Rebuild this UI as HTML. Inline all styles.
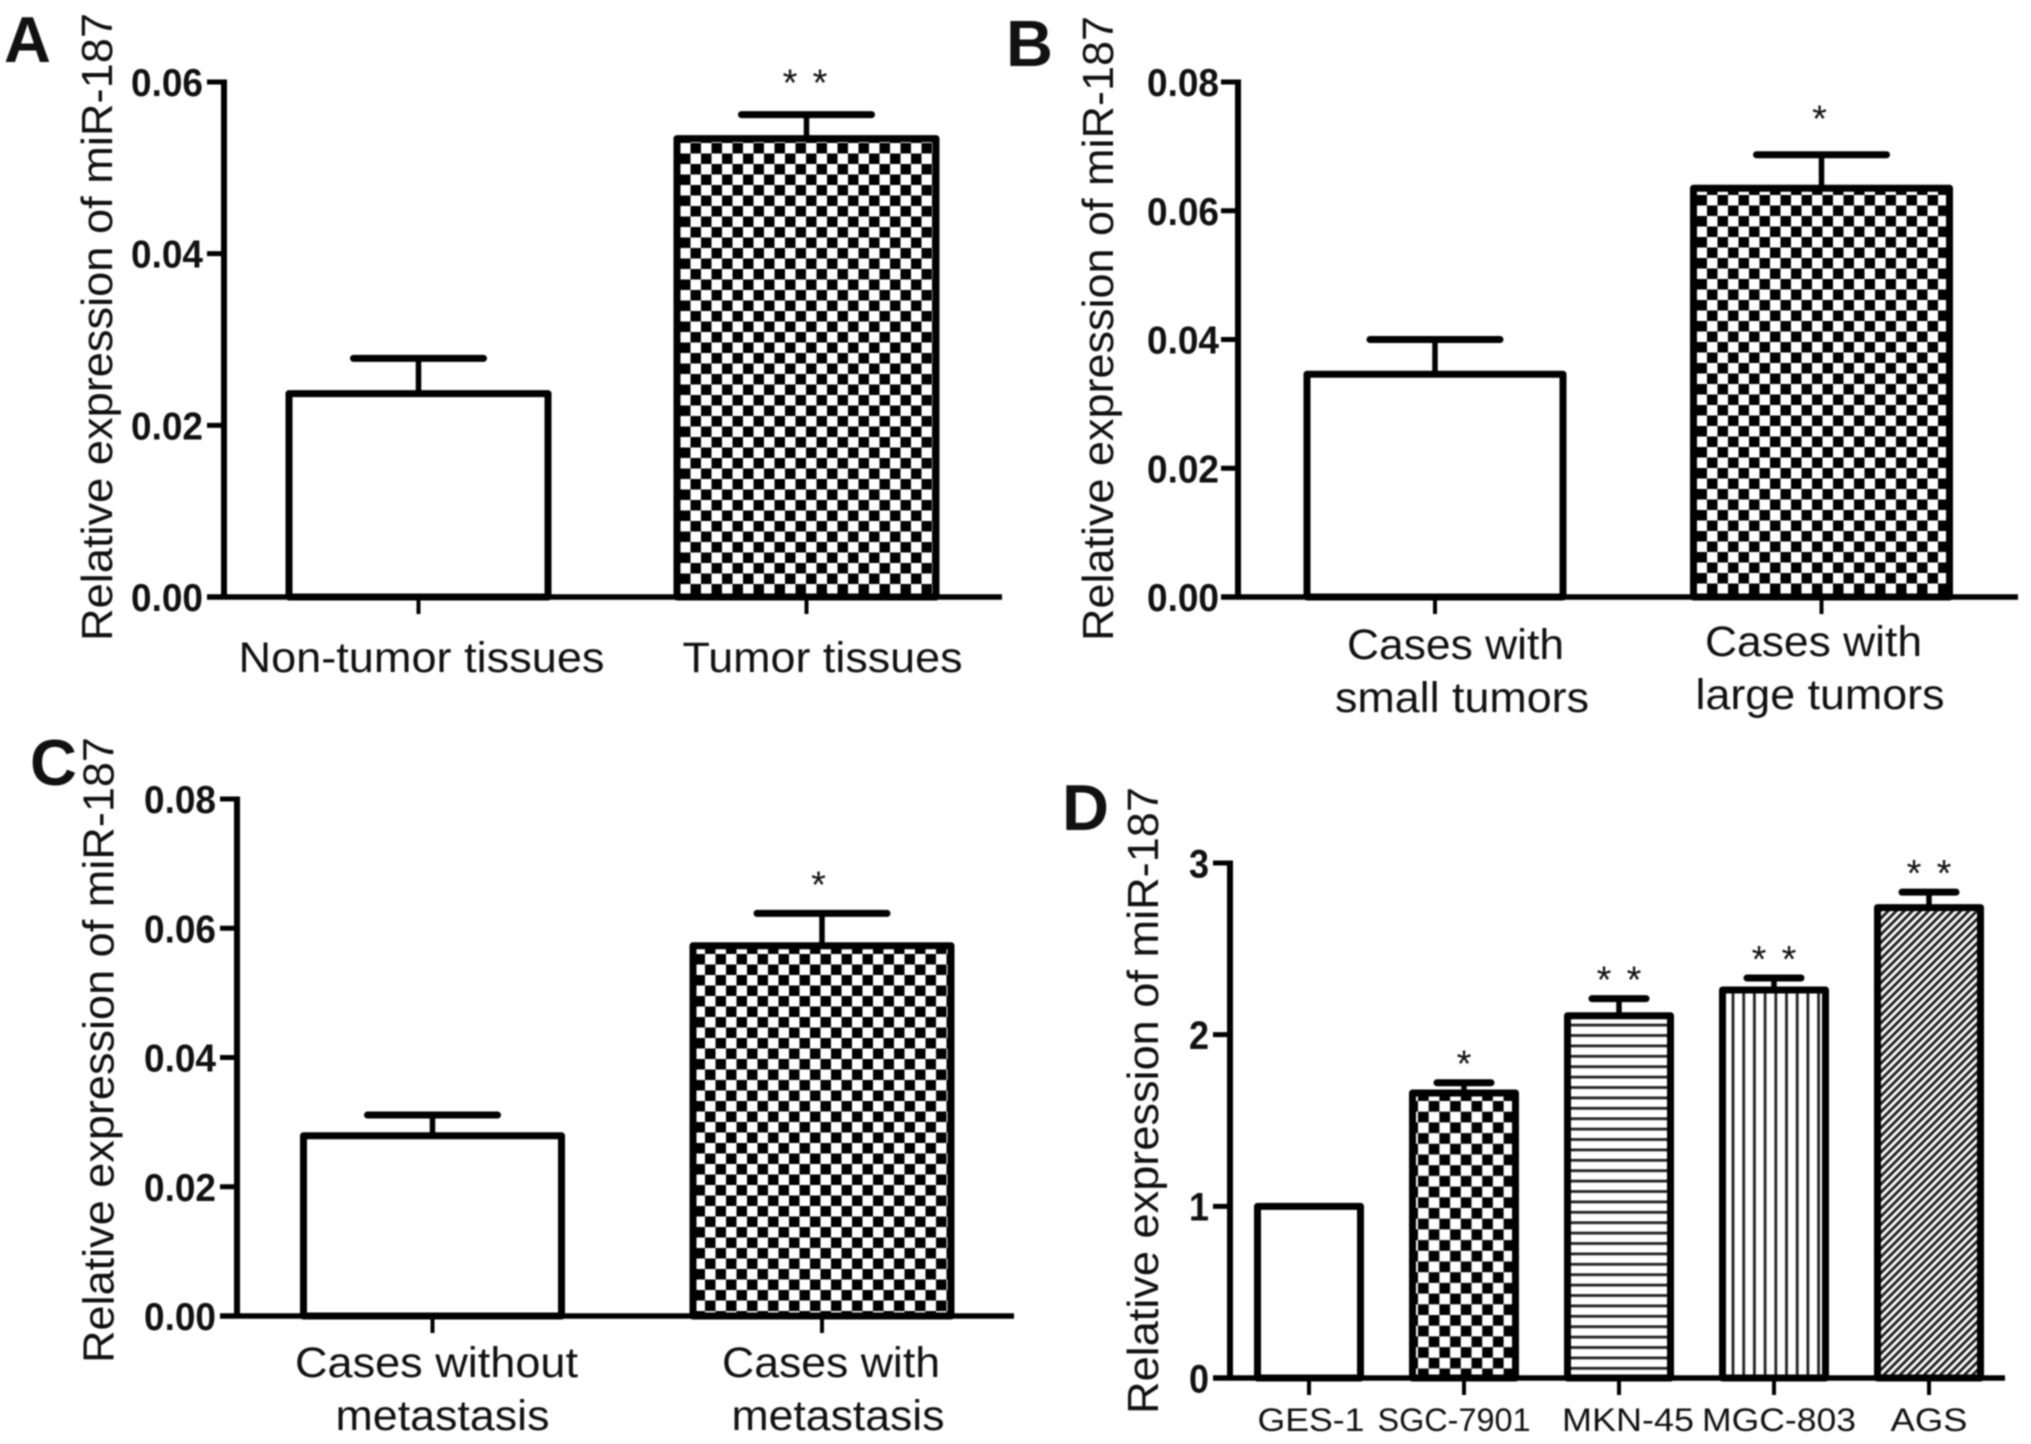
<!DOCTYPE html>
<html lang="en">
<head>
<meta charset="utf-8">
<title>Relative expression of miR-187</title>
<style>
html,body{margin:0;padding:0;background:#fff;}
svg{display:block;filter:blur(0.7px);}
text{font-family:"Liberation Sans",sans-serif;fill:#111;}
</style>
</head>
<body>
<svg id="figure" xmlns="http://www.w3.org/2000/svg" width="2031" height="1444" viewBox="0 0 2031 1444">
  <defs>
    <pattern id="checkA" patternUnits="userSpaceOnUse" x="680" y="143" width="21" height="21"><rect width="21" height="21" fill="#000"/><rect width="10.5" height="10.5" fill="#fff"/><rect x="10.5" y="10.5" width="10.5" height="10.5" fill="#fff"/></pattern>
    <pattern id="checkB" patternUnits="userSpaceOnUse" x="1707" y="195" width="21" height="21"><rect width="21" height="21" fill="#000"/><rect width="10.5" height="10.5" fill="#fff"/><rect x="10.5" y="10.5" width="10.5" height="10.5" fill="#fff"/></pattern>
    <pattern id="checkC" patternUnits="userSpaceOnUse" x="705" y="954" width="21" height="21"><rect width="21" height="21" fill="#000"/><rect width="10.5" height="10.5" fill="#fff"/><rect x="10.5" y="10.5" width="10.5" height="10.5" fill="#fff"/></pattern>
    <pattern id="checkD" patternUnits="userSpaceOnUse" x="1418" y="1101" width="21.4" height="21.4"><rect width="21.4" height="21.4" fill="#000"/><rect width="10.7" height="10.7" fill="#fff"/><rect x="10.7" y="10.7" width="10.7" height="10.7" fill="#fff"/></pattern>
    <pattern id="hStripes" patternUnits="userSpaceOnUse" x="0" y="1023.7" width="10" height="10.4"><rect width="10" height="10.4" fill="#fff"/><rect width="10" height="2.8" fill="#222"/></pattern>
    <pattern id="vStripes" patternUnits="userSpaceOnUse" x="1731.6" y="0" width="10.7" height="10"><rect width="10.7" height="10" fill="#fff"/><rect width="2.8" height="10" fill="#222"/></pattern>
    <pattern id="diagStripes" patternUnits="userSpaceOnUse" width="5.7" height="5.7" patternTransform="rotate(-45)"><rect width="5.7" height="5.7" fill="#fff"/><rect width="5.7" height="2.9" fill="#222"/></pattern>
  </defs>
  <text x="4" y="62" font-size="65" font-weight="bold">A</text>
  <text x="1006" y="66" font-size="65" font-weight="bold">B</text>
  <text x="30" y="785" font-size="65" font-weight="bold">C</text>
  <text x="1062" y="830" font-size="65" font-weight="bold">D</text>
</svg>
<script>
// Panel A data
const panelACategories = [['Non-tumor tissues'], ['Tumor tissues']];
const panelAMeans = [0.0237, 0.0534];
const panelAErrorTops = [0.0278, 0.0562];
const panelAStars = [0, 2];
const panelATickValues = [0, 0.02, 0.04, 0.06];
const panelATickLabels = ['0.00', '0.02', '0.04', '0.06'];

// Panel B data
const panelBCategories = [['Cases with', 'small tumors'], ['Cases with', 'large tumors']];
const panelBMeans = [0.0346, 0.0635];
const panelBErrorTops = [0.04, 0.0687];
const panelBStars = [0, 1];
const panelBTickValues = [0, 0.02, 0.04, 0.06, 0.08];
const panelBTickLabels = ['0.00', '0.02', '0.04', '0.06', '0.08'];

// Panel C data
const panelCCategories = [['Cases without', 'metastasis'], ['Cases with', 'metastasis']];
const panelCMeans = [0.0279, 0.0573];
const panelCErrorTops = [0.0311, 0.0623];
const panelCStars = [0, 1];
const panelCTickValues = [0, 0.02, 0.04, 0.06, 0.08];
const panelCTickLabels = ['0.00', '0.02', '0.04', '0.06', '0.08'];

// Panel D data
const panelDCategories = [['GES-1'], ['SGC-7901'], ['MKN-45'], ['MGC-803'], ['AGS']];
const panelDMeans = [1.0, 1.66, 2.11, 2.26, 2.74];
const panelDErrorTops = [null, 1.72, 2.21, 2.33, 2.83];
const panelDStars = [0, 1, 2, 2, 2];
const panelDTickValues = [0, 1, 2, 3];
const panelDTickLabels = ['0', '1', '2', '3'];

const yAxisTitle = 'Relative expression of miR-187';

// Layout (geometry only, kept apart from the data)
const layoutA = {
  name: 'a', axisX: 224, base: 597, top: 82, axisMax: 0.06, axisEnd: 1002,
  firstCenter: 418.5, step: 388, barW: 259, capW: 130, stroke: 7, starGap: 41, starOffset: -1.5, starSpread: 15,
  fills: ['#fff', 'url(#checkA)'],
  tickLabelRight: 203, tickLabelW: 72, tickFont: 39,
  titleX: 112, titleStart: 641, titleLen: 628, titleFont: 44,
  labelFont: 43,
  labelLines: [[[421.5, 672, 366]], [[822.5, 672, 280]]]
};
const layoutB = {
  name: 'b', axisX: 1238, base: 597, top: 82, axisMax: 0.08, axisEnd: 2018,
  firstCenter: 1435, step: 386.5, barW: 256, capW: 130, stroke: 7, starGap: 45, starOffset: -2, starSpread: 15,
  fills: ['#fff', 'url(#checkB)'],
  tickLabelRight: 1219, tickLabelW: 72, tickFont: 39,
  titleX: 1113, titleStart: 641, titleLen: 625, titleFont: 44,
  labelFont: 43,
  labelLines: [[[1455.5, 659, 217], [1462, 712, 254]], [[1813.5, 656, 217], [1820, 709, 249]]]
};
const layoutC = {
  name: 'c', axisX: 237, base: 1316, top: 799, axisMax: 0.08, axisEnd: 1014,
  firstCenter: 432.5, step: 389.5, barW: 258, capW: 130, stroke: 7, starGap: 38, starOffset: -3.5, starSpread: 15,
  fills: ['#fff', 'url(#checkC)'],
  tickLabelRight: 216, tickLabelW: 72, tickFont: 39,
  titleX: 113.5, titleStart: 1363, titleLen: 626, titleFont: 44,
  labelFont: 43,
  labelLines: [[[436.5, 1377, 283], [442.5, 1430, 214]], [[831, 1377, 218], [838, 1430, 213]]]
};
const layoutD = {
  name: 'd', axisX: 1230, base: 1378, top: 863, axisMax: 3, axisEnd: 2005,
  firstCenter: 1309, step: 155, barW: 103, capW: 54, stroke: 7, starGap: 28, starOffset: 0, starSpread: 15,
  fills: ['#fff', 'url(#checkD)', 'url(#hStripes)', 'url(#vStripes)', 'url(#diagStripes)'],
  tickLabelRight: 1209, tickLabelW: 20, tickFont: 40,
  titleX: 1158, titleStart: 1414, titleLen: 627, titleFont: 44,
  labelFont: 32,
  labelLines: [[[1311, 1431, 107]], [[1454, 1431, 153]], [[1628, 1431, 132]], [[1779, 1431, 154]], [[1929, 1431, 77]]]
};

const SVGNS = 'http://www.w3.org/2000/svg';
const figure = document.getElementById('figure');

function make(tag, attrs, parent, content) {
  const el = document.createElementNS(SVGNS, tag);
  for (const key in attrs) el.setAttribute(key, attrs[key]);
  if (content !== undefined) el.textContent = content;
  parent.appendChild(el);
  return el;
}

function drawPanel(layout, categories, means, errorTops, stars, tickValues, tickLabels) {
  const yScale = v => layout.base - (v / layout.axisMax) * (layout.base - layout.top);
  const xScale = i => layout.firstCenter + i * layout.step;

  const group = make('g', {}, figure);
  
  

  // bars
  means.forEach((mean, i) => {
    const cx = xScale(i);
    const barTop = yScale(mean);
    const bar = make('rect', {
      x: cx - layout.barW / 2, y: barTop, width: layout.barW, height: layout.base - barTop,
      fill: layout.fills[i], stroke: '#000', 'stroke-width': layout.stroke, 'stroke-linejoin': 'round'
    }, group);
    
    

    if (errorTops[i] !== null) {
      const errY = yScale(errorTops[i]);
      const stem = make('line', {
        x1: cx, x2: cx, y1: barTop, y2: errY, stroke: '#000', 'stroke-width': 5.5
      }, group);
      
      
      const cap = make('line', {
        x1: cx - layout.capW / 2, x2: cx + layout.capW / 2, y1: errY, y2: errY,
        stroke: '#000', 'stroke-width': 7, 'stroke-linecap': 'round'
      }, group);
      
      

      for (let s = 0; s < stars[i]; s++) {
        const spread = stars[i] === 2 ? (s === 0 ? -layout.starSpread : layout.starSpread) : 0;
        const star = make('text', {
          x: cx + layout.starOffset + spread, y: errY - layout.starGap + 22,
          'font-size': 38, 'text-anchor': 'middle'
        }, group, '*');
        
        
      }
    }
  });

  // y axis
  const yAxis = make('line', {
    x1: layout.axisX, x2: layout.axisX, y1: layout.top - 2.5, y2: layout.base + 2.5,
    stroke: '#000', 'stroke-width': 6
  }, group);
  
  

  tickValues.forEach((value, i) => {
    const y = yScale(value);
    const tick = make('line', {
      x1: layout.axisX - 17, x2: layout.axisX, y1: y, y2: y, stroke: '#000', 'stroke-width': 5
    }, group);
    
    
    const label = make('text', {
      x: layout.tickLabelRight, y: y + layout.tickFont * 0.36, 'font-size': layout.tickFont,
      'font-weight': 'bold', 'text-anchor': 'end',
      textLength: layout.tickLabelW, lengthAdjust: 'spacingAndGlyphs'
    }, group, tickLabels[i]);
    
    
  });

  const title = make('text', {
    transform: 'translate(' + layout.titleX + ',' + layout.titleStart + ') rotate(-90)',
    'font-size': layout.titleFont, textLength: layout.titleLen, lengthAdjust: 'spacingAndGlyphs'
  }, group, yAxisTitle);
  
  

  // x axis
  const xAxis = make('line', {
    x1: layout.axisX - 17, x2: layout.axisEnd, y1: layout.base, y2: layout.base,
    stroke: '#000', 'stroke-width': 5.5
  }, group);
  
  

  categories.forEach((lines, i) => {
    const cx = xScale(i);
    const tick = make('line', {
      x1: cx, x2: cx, y1: layout.base, y2: layout.base + 17, stroke: '#000', 'stroke-width': 4
    }, group);
    
    
    lines.forEach((line, j) => {
      const place = layout.labelLines[i][j];
      const label = make('text', {
        x: place[0], y: place[1], 'font-size': layout.labelFont, 'text-anchor': 'middle',
        textLength: place[2], lengthAdjust: 'spacingAndGlyphs'
      }, group, line);
      
      
    });
  });
}

drawPanel(layoutA, panelACategories, panelAMeans, panelAErrorTops, panelAStars, panelATickValues, panelATickLabels);
drawPanel(layoutB, panelBCategories, panelBMeans, panelBErrorTops, panelBStars, panelBTickValues, panelBTickLabels);
drawPanel(layoutC, panelCCategories, panelCMeans, panelCErrorTops, panelCStars, panelCTickValues, panelCTickLabels);
drawPanel(layoutD, panelDCategories, panelDMeans, panelDErrorTops, panelDStars, panelDTickValues, panelDTickLabels);
</script>
</body>
</html>
